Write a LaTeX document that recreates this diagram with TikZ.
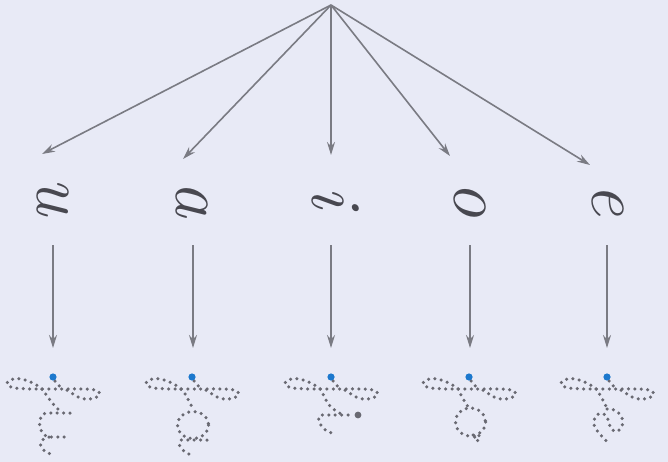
\documentclass[tikz,border=0pt]{standalone}
\usetikzlibrary{arrows.meta}

\definecolor{paper}{RGB}{232,234,246}
\definecolor{arrowgray}{RGB}{122,123,131}
\definecolor{inkgray}{RGB}{72,72,80}
\definecolor{dotgray}{RGB}{105,105,114}
\definecolor{startblue}{RGB}{28,120,205}

% dotted t with its starting dot, drawn round the blue dot at (0,0)
\tikzset{
  pics/tloop/.style={code={
    \draw[trace] plot[smooth, tension=0.6] coordinates {(-11,12) (-20,6) (-33,1.8) (-43,3) (-46,7) (-41,10.5) (-28,11.8) (-10,12) (10,12) (30,12) (42,13) (47,16.5) (43,20.5) (34,22.3) (25,20) (18,15.5) (12,12)};
    \draw[trace] plot[smooth] coordinates {(2,4) (6.6,9.3) (10,12)};
    \fill[startblue] (0,0) circle (3.6);
  }}
}

\begin{document}
\begin{tikzpicture}[x=1pt, y=-1pt,
  arr/.style={draw=arrowgray, line width=1.6pt, -{Stealth[length=13pt, width=8pt]}},
  letter/.style={text=inkgray, rotate=-90, inner sep=0pt, font=\fontsize{72}{72}\selectfont\itshape},
  trace/.style={draw=dotgray, line width=3.5pt, line cap=round, dash pattern=on 0pt off 6.4pt}
]
\fill[paper] (0,0) rectangle (668,462);
\useasboundingbox (0,0) rectangle (668,462);

% --- apex and arrow ends ---
\coordinate (top) at (331,5);
\coordinate (pu) at (42,154);
\coordinate (pa) at (183,159);
\coordinate (pi) at (331,155);
\coordinate (po) at (450,156);
\coordinate (pe) at (590,165);

% --- written vowels (turned a quarter) ---
\node[letter] (u) at (53,196) {u};
\node[letter] (a) at (192,200) {a};
\node[letter] (i) at (336,197) {i};
\node[letter] (o) at (470,200) {o};
\node[letter] (e) at (608,200) {e};

% --- ends of the short arrows ---
\coordinate (u1) at (53,245);  \coordinate (tu) at (53,348);
\coordinate (a1) at (193,245); \coordinate (ta) at (193,348);
\coordinate (i1) at (331,245); \coordinate (ti) at (331,348);
\coordinate (o1) at (470,245); \coordinate (to) at (470,348);
\coordinate (e1) at (607,245); \coordinate (te) at (607,348);

% --- arrows ---
\draw[arr] (top) -- (pu);
\draw[arr] (top) -- (pa);
\draw[arr] (top) -- (pi);
\draw[arr] (top) -- (po);
\draw[arr] (top) -- (pe);

\draw[arr] (u1) -- (tu);
\draw[arr] (a1) -- (ta);
\draw[arr] (i1) -- (ti);
\draw[arr] (o1) -- (to);
\draw[arr] (e1) -- (te);

% --- dotted syllables to trace ---
\begin{scope}[shift={(53,377)}]
  \pic {tloop};
  \draw[trace] plot[smooth] coordinates {(-11,12) (-8,16) (-3,23) (1,28) (5,32) (9,36)};
  \draw[trace] (17,36) -- (-7,36) .. controls (-16,37) and (-16,58) .. (-4,60) -- (17,60);
  \draw[trace] (-4,60) .. controls (-16,62) and (-16,74) .. (1,78);
\end{scope}

\begin{scope}[shift={(192,377)}]
  \pic {tloop};
  \draw[trace] plot[smooth] coordinates {(-11,12) (-7,17) (-3,24) (0,30) (1,34)};
  \draw[trace] (1,48) ellipse (15.5 and 13.5);
  \draw[trace] (15,63) -- (-11,63) .. controls (-16,66) and (-10,76) .. (2,79);
\end{scope}

\begin{scope}[shift={(331,377)}]
  \pic {tloop};
  \draw[trace] plot[smooth] coordinates {(-11,12) (-8,17) (-4,25) (1,31) (7,35) (12,38)};
  \draw[trace] (17,38) -- (-10,38) .. controls (-16,40) and (-10,54) .. (1,56);
  \fill[dotgray] (27,38) circle (3.4);
\end{scope}

\begin{scope}[shift={(469,377)}]
  \pic {tloop};
  \draw[trace] plot[smooth] coordinates {(-11,12) (-8,18) (-4,25) (0,31)};
  \draw[trace] (1.5,45) ellipse (15 and 14);
  \draw[trace] (4,58) .. controls (12,55) and (13,63) .. (8,64) .. controls (4,64) and (4,58) .. (10,57);
\end{scope}

\begin{scope}[shift={(607,377)}]
  \pic {tloop};
  \draw[trace] plot[smooth] coordinates {(-11,12) (-7,18) (-3,25) (0,32)};
  \draw[trace] plot[smooth] coordinates {(0,32) (5,32.5) (10,34.4) (15,41) (15,49.4) (10,54.4) (5,52.7) (1.7,46) (0,39.4) (-5,36.5) (-10,37.7) (-13.3,44.4) (-11.7,51) (-6.7,57.7) (-1.7,62.7) (1.7,67.7)};
\end{scope}

\end{tikzpicture}
\end{document}
